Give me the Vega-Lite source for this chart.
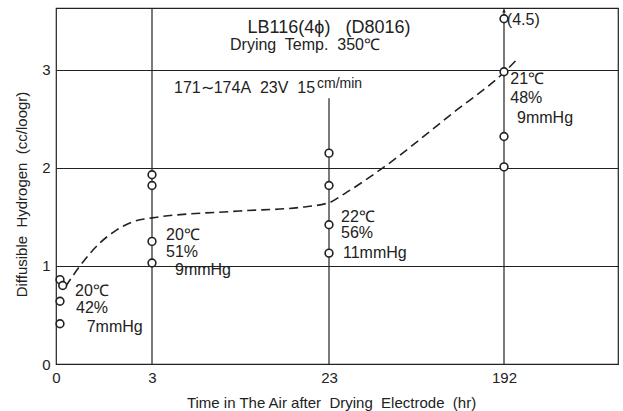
{
  "$schema": "https://vega.github.io/schema/vega-lite/v6.json",
  "width": 562,
  "height": 356,
  "autosize": {"type": "none"},
  "padding": {"left": 56, "top": 8, "right": 5, "bottom": 47},
  "config": {
    "font": "Liberation Sans",
    "view": {"stroke": "#222", "strokeWidth": 1.2},
    "text": {"font": "Liberation Sans", "color": "#222"}
  },
  "datasets": {
    "points": [
      {"t": 0.125, "h": 0.86},
      {"t": 0.21, "h": 0.80},
      {"t": 0.125, "h": 0.64},
      {"t": 0.125, "h": 0.41},
      {"t": 3, "h": 1.93},
      {"t": 3, "h": 1.82},
      {"t": 3, "h": 1.25},
      {"t": 3, "h": 1.03},
      {"t": 23, "h": 2.15},
      {"t": 23, "h": 1.82},
      {"t": 23, "h": 1.42},
      {"t": 23, "h": 1.13},
      {"t": 192, "h": 3.52},
      {"t": 192, "h": 2.98},
      {"t": 192, "h": 2.32},
      {"t": 192, "h": 2.01}
    ],
    "curve": [
      {"t": 0.3, "h": 0.79},
      {"t": 0.75, "h": 1.0},
      {"t": 1.375, "h": 1.235},
      {"t": 1.9, "h": 1.367},
      {"t": 2.4, "h": 1.45},
      {"t": 3, "h": 1.49},
      {"t": 12.9, "h": 1.56},
      {"t": 19.7, "h": 1.597},
      {"t": 23, "h": 1.645},
      {"t": 38.5, "h": 1.74},
      {"t": 75, "h": 2.0},
      {"t": 142.7, "h": 2.56},
      {"t": 193, "h": 2.98},
      {"t": 212, "h": 3.12}
    ],
    "notes": [
      {"t": 0.594, "h": 0.746, "label": "20℃"},
      {"t": 0.625, "h": 0.57, "label": "42%"},
      {"t": 0.96, "h": 0.38, "label": "7mmHg"},
      {"t": 4.58, "h": 1.316, "label": "20℃"},
      {"t": 4.58, "h": 1.146, "label": "51%"},
      {"t": 5.6, "h": 0.96, "label": "9mmHg"},
      {"t": 34.6, "h": 1.503, "label": "22℃"},
      {"t": 34.6, "h": 1.334, "label": "56%"},
      {"t": 36.5, "h": 1.136, "label": "11mmHg"},
      {"t": 200.7, "h": 2.908, "label": "21℃"},
      {"t": 200.7, "h": 2.711, "label": "48%"},
      {"t": 210.1, "h": 2.507, "label": "9mmHg"},
      {"t": 195.9, "h": 3.503, "label": "(4.5)"}
    ]
  },
  "layer": [
    {
      "data": {"values": [{}]},
      "mark": {"type": "rule", "color": "#222", "strokeWidth": 1.2},
      "encoding": {
        "x": {"datum": 3, "type": "quantitative", "scale": {"domain": [0, 3, 23, 192, 302], "range": [0, 96, 273, 448, 562]},
          "axis": {"values": [0, 3, 23, 192], "title": "Time in The Air after\u00a0 Drying\u00a0 Electrode\u00a0 (hr)", "titleX": 275, "grid": false, "ticks": false, "domain": false, "labelFontSize": 15, "labelColor": "#222", "labelPadding": 6, "titleFontSize": 15, "titleFontWeight": "normal", "titleColor": "#222", "titlePadding": 10, "labelFlush": false}},
        "y": {"datum": 0, "type": "quantitative", "scale": {"domain": [0, 3.63], "nice": false},
          "axis": {"values": [0, 1, 2, 3], "format": "d", "title": "Diffusible\u00a0 Hydrogen\u00a0 (cc/loogr)", "titleY": 186, "grid": true, "gridColor": "#222", "gridOpacity": 1, "gridWidth": 1, "ticks": false, "domain": false, "labelFontSize": 15, "labelColor": "#222", "labelPadding": 6, "titleFontSize": 15, "titleFontWeight": "normal", "titleColor": "#222", "titlePadding": 12}},
        "y2": {"datum": 3.63}
      }
    },
    {
      "data": {"values": [{}]},
      "mark": {"type": "rule", "color": "#222", "strokeWidth": 1.2},
      "encoding": {
        "x": {"datum": 192, "type": "quantitative"},
        "y": {"datum": 0, "type": "quantitative"},
        "y2": {"datum": 3.63}
      }
    },
    {
      "data": {"values": [{}]},
      "mark": {"type": "rule", "color": "#222", "strokeWidth": 1.2},
      "encoding": {
        "x": {"datum": 23, "type": "quantitative"},
        "y": {"datum": 0, "type": "quantitative"},
        "y2": {"datum": 2.71}
      }
    },
    {
      "data": {"name": "curve"},
      "mark": {"type": "line", "color": "#222", "strokeWidth": 1.6, "strokeDash": [9, 5], "interpolate": "monotone"},
      "encoding": {
        "x": {"field": "t", "type": "quantitative"},
        "y": {"field": "h", "type": "quantitative"}
      }
    },
    {
      "data": {"name": "points"},
      "mark": {"type": "point", "shape": "circle", "filled": false, "fill": "white", "fillOpacity": 1, "stroke": "#222", "strokeWidth": 1.6, "size": 60, "opacity": 1},
      "encoding": {
        "x": {"field": "t", "type": "quantitative"},
        "y": {"field": "h", "type": "quantitative"}
      }
    },
    {
      "data": {"values": [{}]},
      "mark": {"type": "point", "shape": "triangle-up", "filled": true, "color": "#222", "size": 14, "opacity": 1},
      "encoding": {
        "x": {"datum": 192, "type": "quantitative"},
        "y": {"datum": 3.6, "type": "quantitative"}
      }
    },
    {
      "data": {"name": "notes"},
      "mark": {"type": "text", "align": "left", "baseline": "middle", "fontSize": 16},
      "encoding": {
        "x": {"field": "t", "type": "quantitative"},
        "y": {"field": "h", "type": "quantitative"},
        "text": {"field": "label"}
      }
    },
    {
      "data": {"values": [{}]},
      "mark": {"type": "text", "align": "center", "baseline": "middle", "fontSize": 18, "text": "LB116(4ϕ)\u00a0\u00a0 (D8016)", "dx": 0},
      "encoding": {
        "x": {"datum": 23, "type": "quantitative"},
        "y": {"datum": 3.425, "type": "quantitative"}
      }
    },
    {
      "data": {"values": [{}]},
      "mark": {"type": "text", "align": "center", "baseline": "middle", "fontSize": 16, "text": "Drying\u00a0 Temp.\u00a0 350℃", "dx": -24},
      "encoding": {
        "x": {"datum": 23, "type": "quantitative"},
        "y": {"datum": 3.255, "type": "quantitative"}
      }
    },
    {
      "data": {"values": [{}]},
      "mark": {"type": "text", "align": "left", "baseline": "middle", "fontSize": 16, "text": "171∼174A\u00a0 23V\u00a0 15", "dx": 22},
      "encoding": {
        "x": {"datum": 3, "type": "quantitative"},
        "y": {"datum": 2.816, "type": "quantitative"}
      }
    },
    {
      "data": {"values": [{}]},
      "mark": {"type": "text", "align": "left", "baseline": "middle", "fontSize": 14, "text": "cm/min", "dx": -12},
      "encoding": {
        "x": {"datum": 23, "type": "quantitative"},
        "y": {"datum": 2.85, "type": "quantitative"}
      }
    }
  ]
}
